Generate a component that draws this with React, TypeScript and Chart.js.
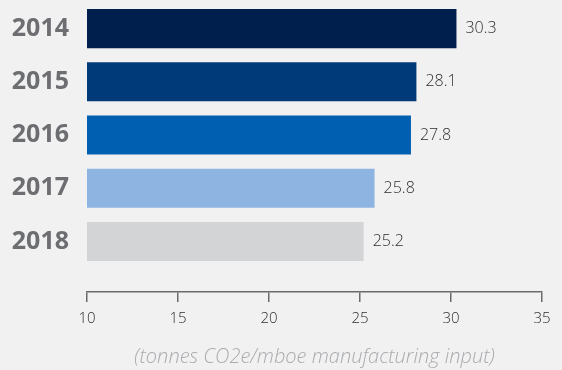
import React, { useEffect, useRef } from "react";
import { Chart, registerables } from "chart.js";

Chart.register(...registerables);

const years = ["2014", "2015", "2016", "2017", "2018"];
const values = [30.3, 28.1, 27.8, 25.8, 25.2];
const valueLabels = ["30.3", "28.1", "27.8", "25.8", "25.2"];
const barColors = ["#001f4d", "#003a78", "#005fb0", "#8eb5e2", "#d3d4d6"];
const xTicks = [10, 15, 20, 25, 30, 35];
const axisTitle = "(tonnes CO2e/mboe manufacturing input)";

export default function App() {
  const ref = useRef<HTMLCanvasElement | null>(null);

  useEffect(() => {
    document.body.style.margin = "0";
    document.body.style.background = "#f1f1f1";
    const canvas = ref.current;
    if (!canvas) return;

    const valueLabelPlugin = {
      id: "valueLabels",
      afterDatasetsDraw(chart: any) {
        const ctx = chart.ctx;
        const meta = chart.getDatasetMeta(0);
        ctx.save();
        ctx.font = "300 16px 'Open Sans'";
        ctx.fillStyle = "#2e2e2e";
        ctx.textAlign = "left";
        ctx.textBaseline = "middle";
        meta.data.forEach((el: any, i: number) => {
          ctx.fillText(valueLabels[i], el.x + 9, el.y);
        });
        ctx.restore();
      },
    };

    const chart = new Chart(canvas, {
      type: "bar",
      data: {
        datasets: [
          {
            data: values.map((v, i) => ({ x: v, y: i })),
            backgroundColor: barColors,
            borderWidth: 0,
            categoryPercentage: 1,
            barPercentage: 0.735,
          },
        ],
      },
      options: {
        indexAxis: "y",
        animation: false,
        responsive: false,
        devicePixelRatio: 1,
        layout: { padding: { top: 2, right: 20, left: 0, bottom: 0 } },
        plugins: {
          legend: { display: false },
          tooltip: { enabled: false },
        },
        scales: {
          x: {
            type: "linear",
            position: "bottom",
            min: xTicks[0],
            max: xTicks[xTicks.length - 1],
            afterBuildTicks: (scale: any) => {
              scale.ticks = xTicks.map((v) => ({ value: v }));
            },
            afterFit: (scale: any) => {
              scale.height = 78;
            },
            border: { display: true, color: "#6b6b6b", width: 1.5 },
            grid: {
              display: true,
              drawOnChartArea: false,
              drawTicks: true,
              tickLength: 10,
              color: "#6b6b6b",
              lineWidth: 1.5,
            },
            ticks: {
              padding: 8,
              color: "#2e2e2e",
              font: { family: "Open Sans", size: 15, weight: "300" },
              maxRotation: 0,
            },
            title: {
              display: true,
              text: axisTitle,
              color: "#a9abae",
              font: { family: "Open Sans", size: 20, style: "italic", weight: "300" },
              padding: { top: 0, bottom: 1 },
            },
          },
          y: {
            type: "linear",
            reverse: true,
            offset: false,
            min: -0.5,
            max: 4.95,
            afterBuildTicks: (scale: any) => {
              scale.ticks = years.map((_, i) => ({ value: i }));
            },
            afterFit: (scale: any) => {
              scale.width = 87;
              scale.paddingTop = 0;
              scale.paddingBottom = 0;
            },
            border: { display: false },
            grid: { display: false, drawTicks: false, offset: false },
            ticks: {
              padding: 18,
              color: "#6d6e71",
              font: { family: "Open Sans", size: 25, weight: "bold" },
              callback: (v: any) => years[v] ?? "",
            },
          },
        },
      },
      plugins: [valueLabelPlugin],
    } as any);

    return () => chart.destroy();
  }, []);

  return (
    <div style={{ width: 562, height: 370, background: "#f1f1f1" }}>
      <canvas ref={ref} width={562} height={370} />
    </div>
  );
}
